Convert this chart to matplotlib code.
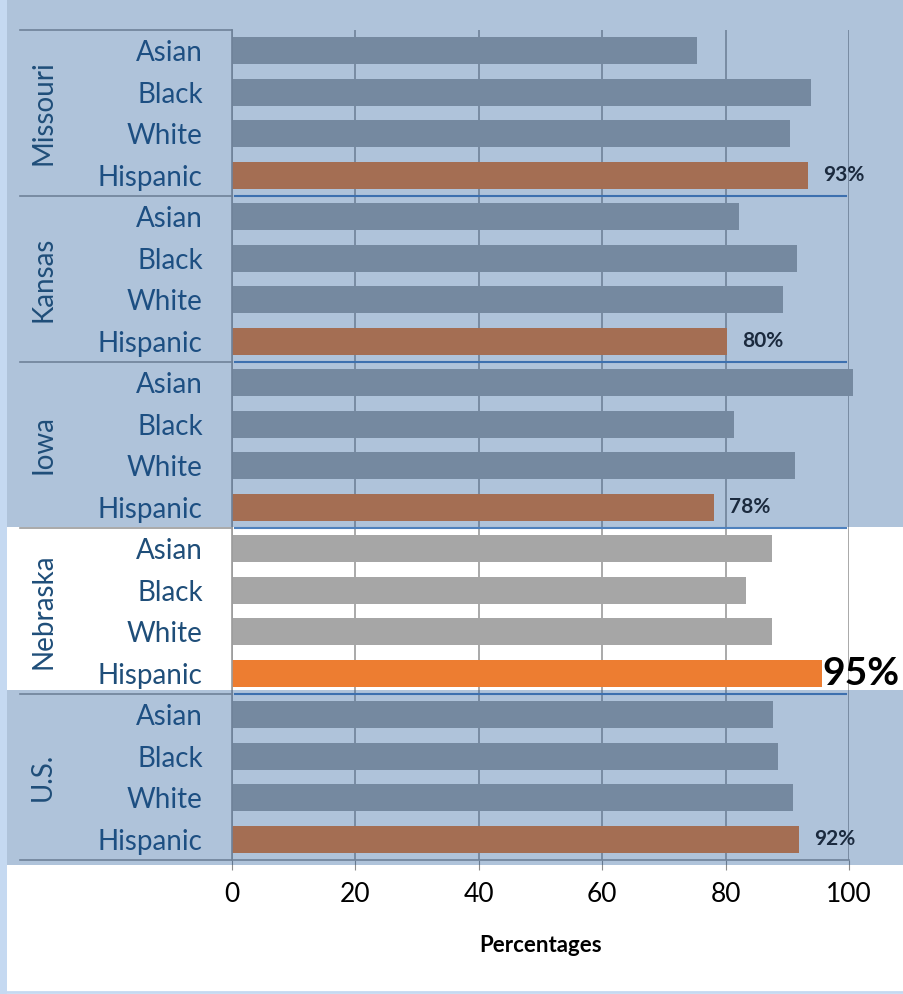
import matplotlib.pyplot as plt
from matplotlib.patches import Rectangle
from matplotlib.lines import Line2D
import matplotlib.transforms as mtransforms

# データ
states = ["Missouri", "Kansas", "Iowa", "Nebraska", "U.S."]
groups = ["Asian", "Black", "White", "Hispanic"]
missouri = [75.4, 93.8, 90.4, 93.4]
kansas = [82.2, 91.6, 89.3, 80.2]
iowa = [100.6, 81.4, 91.2, 78.1]
nebraska = [87.5, 83.3, 87.5, 95.6]
us = [87.7, 88.5, 90.9, 91.9]
hispanic_labels = ["93%", "80%", "78%", "95%", "92%"]
highlight = "Nebraska"

values_by_state = [missouri, kansas, iowa, nebraska, us]

plt.rcParams['font.family'] = ['Lato', 'DejaVu Sans']

W, H = 904, 994
fig = plt.figure(figsize=(W / 100, H / 100), dpi=100)
fig.patch.set_facecolor('white')
ax = fig.add_axes([232 / W, 1 - 860 / H, 617 / W, 830 / H])
ax.set_facecolor('none')

# 左側の帯
fig.add_artist(Rectangle((0, 0), 7 / W, 1, transform=fig.transFigure,
                         facecolor='#c5d9f1', edgecolor='none', zorder=-1))
fig.add_artist(Line2D([0, 1], [1 - 992 / H] * 2, transform=fig.transFigure,
                      color='#c5d9f1', lw=2, zorder=-1))

rows, vals, colors, labels = [], [], [], []
for si, (state, values) in enumerate(zip(states, values_by_state)):
    for gi, g in enumerate(groups):
        rows.append(si * 4 + gi)
        vals.append(values[gi])
        labels.append(g)
        colors.append('#ed7d31' if g == "Hispanic" else '#a6a6a6')

bars = ax.barh(rows, vals, height=0.65, color=colors, zorder=2)
for b in bars:
    b.set_clip_on(False)
ax.set_ylim(19.5, -0.5)
ax.set_xlim(0, 100)
ax.set_yticks(rows)
ax.set_yticklabels(labels, fontsize=20, color='#1f4e79')
ax.set_xticks([0, 20, 40, 60, 80, 100])
ax.tick_params(axis='y', length=0, pad=21)
ax.tick_params(axis='x', length=7, pad=9, labelsize=19, color='#8c8c8c')
ax.xaxis.grid(True, color='#9b9b9b', lw=1.2, zorder=1)
ax.set_axisbelow(True)
for side in ['top', 'right']:
    ax.spines[side].set_visible(False)
for side in ['left', 'bottom']:
    ax.spines[side].set_color('#9b9b9b')
    ax.spines[side].set_linewidth(1.2)
ax.set_xlabel("Percentages", fontsize=16, fontweight='bold', labelpad=20)

# グループ区切り線
trans = mtransforms.blended_transform_factory(ax.transAxes, ax.transData)
for b in [-0.5, 3.5, 7.5, 11.5, 15.5, 19.5]:
    ax.add_line(Line2D([-212 / 617, 0], [b, b], transform=trans,
                       color='#9b9b9b', lw=1.2, clip_on=False, zorder=2))
for b in [3.5, 7.5, 11.5, 15.5]:
    ax.plot([0.5, 99.5], [b, b], color='#4f81bd', lw=1.5, zorder=2)

# 州ラベル
for si, state in enumerate(states):
    ax.text(-189 / 617, si * 4 + 1.5, state, transform=trans, rotation=90,
            ha='center', va='center', fontsize=20, color='#1f4e79',
            clip_on=False, zorder=4)

# ヒスパニックの値ラベル
for si, state in enumerate(states):
    v = values_by_state[si][3]
    if state == highlight:
        ax.text(v + 0.1, si * 4 + 3, hispanic_labels[si], ha='left', va='center',
                fontsize=28, fontweight='bold', color='black', zorder=5,
                clip_on=False)
    else:
        ax.text(v + 2.4, si * 4 + 3, hispanic_labels[si], ha='left', va='center',
                fontsize=15, fontweight='bold', color='#1b2a3e', zorder=5,
                clip_on=False)

# 青みがかったオーバーレイ（ネブラスカ以外）
for y0, y1 in [(0, 527), (690, 865)]:
    ax.add_patch(Rectangle((7 / W, 1 - y1 / H), 1, (y1 - y0) / H,
                           transform=fig.transFigure, facecolor='#1c5395',
                           alpha=0.35, edgecolor='none', clip_on=False, zorder=3))

fig.savefig("out.png", dpi=100)
